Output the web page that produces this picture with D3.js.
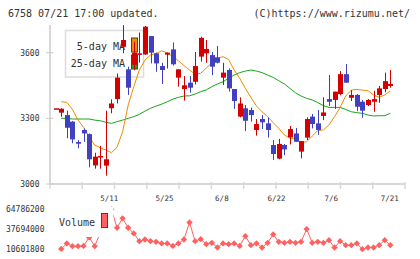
<!DOCTYPE html>
<html>
<head>
<meta charset="utf-8">
<script src="https://cdn.jsdelivr.net/npm/d3@7"></script>
<style>
body { margin: 0; background: #fff; }
svg { display: block; }
text { font-family: 'DejaVu Sans Mono', monospace; fill: #333; }
</style>
</head>
<body>
<div id="chart"></div>
<script>
// Daily candles (index 0 = first day shown)
var openP  = [3346, 3326, 3315, 3285, 3192, 3247, 3228, 3085, 3122, 3084,
              3346, 3388, 3627, 3524, 3545, 3592, 3592, 3676, 3597, 3539,
              3591, 3615, 3486, 3434, 3463, 3467, 3582, 3597, 3589, 3579,
              3486, 3521, 3434, 3308, 3346, 3338, 3247, 3297, 3277, 3178,
              3116, 3178, 3213, 3231, 3148, 3212, 3308, 3277, 3311, 3388,
              3384, 3411, 3502, 3394, 3407, 3376, 3361, 3376, 3407, 3434, 3448];
var highP  = [3346, 3346, 3335, 3288, 3201, 3254, 3231, 3143, 3174, 3335,
              3387, 3505, 3726, 3536, 3650, 3692, 3722, 3676, 3600, 3554,
              3601, 3647, 3524, 3493, 3493, 3603, 3673, 3658, 3603, 3630,
              3554, 3528, 3434, 3396, 3361, 3349, 3297, 3315, 3303, 3201,
              3206, 3183, 3265, 3256, 3196, 3305, 3320, 3338, 3396, 3498,
              3422, 3516, 3548, 3429, 3411, 3384, 3388, 3426, 3448, 3509, 3521];
var lowP   = [3346, 3307, 3209, 3186, 3163, 3193, 3076, 3070, 3070, 3038,
              3323, 3368, 3597, 3407, 3520, 3555, 3590, 3551, 3513, 3457,
              3528, 3541, 3445, 3381, 3417, 3455, 3559, 3554, 3498, 3551,
              3452, 3422, 3343, 3305, 3242, 3285, 3221, 3251, 3212, 3110,
              3113, 3132, 3181, 3192, 3117, 3201, 3254, 3224, 3292, 3356,
              3343, 3405, 3463, 3379, 3333, 3303, 3356, 3330, 3371, 3419, 3440];
var closeP = [3346, 3344, 3257, 3204, 3184, 3231, 3113, 3125, 3128, 3113,
              3368, 3486, 3658, 3440, 3600, 3597, 3719, 3600, 3551, 3521,
              3600, 3547, 3524, 3451, 3440, 3539, 3668, 3617, 3536, 3554,
              3509, 3437, 3379, 3368, 3289, 3315, 3274, 3282, 3247, 3137,
              3183, 3158, 3251, 3193, 3196, 3297, 3274, 3247, 3327, 3376,
              3422, 3502, 3463, 3407, 3353, 3335, 3384, 3388, 3437, 3470, 3457];

// Moving averages as drawn
var ma5  = [null, 3376, 3373, 3341, 3292, 3259, 3216, 3178, 3166, 3155,
            3143, 3168, 3239, 3361, 3445, 3521, 3566, 3589, 3597, 3608,
            3600, 3582, 3563, 3541, 3521, 3502, 3506, 3530, 3554, 3574,
            3582, 3569, 3521, 3483, 3437, 3396, 3356, 3330, 3308, 3280,
            3254, 3224, 3209, 3206, 3190, 3193, 3219, 3244, 3247, 3270,
            3308, 3350, 3402, 3429, 3432, 3429, 3426, 3407, 3396, 3407, 3425];
var ma25 = [null, 3300, 3300, 3297, 3297, 3297, 3297, 3292, 3289, 3282,
            3277, 3285, 3292, 3300, 3308, 3318, 3333, 3346, 3356, 3365,
            3376, 3388, 3396, 3402, 3403, 3411, 3422, 3430, 3445, 3457,
            3467, 3483, 3498, 3509, 3516, 3521, 3516, 3509, 3498, 3487,
            3472, 3457, 3437, 3417, 3402, 3391, 3384, 3372, 3358, 3350,
            3350, 3350, 3341, 3330, 3326, 3323, 3315, 3311, 3312, 3312, 3323];

// Volume (index 8-10 sit under the legend box)
var volume = [null, 11000000, 18400000, 14700000, 14700000, 15100000, 26600000, 14700000, 33000000, 45000000,
              64786200, 39700000, 52500000, 39700000, 32000000, 21500000, 23800000, 21500000, 20600000, 18400000,
              18400000, 15100000, 18400000, 23800000, 47000000, 21500000, 24200000, 17400000, 19200000, 12900000,
              18400000, 17400000, 18400000, 15100000, 28300000, 16100000, 18400000, 12900000, 19200000, 30700000,
              20600000, 19200000, 20600000, 19200000, 20600000, 37900000, 19200000, 20600000, 19200000, 22900000,
              12900000, 21500000, 16100000, 16100000, 18400000, 10601800, 12900000, 12900000, 16100000, 22900000, 16100000];

var priceTicks = [3000, 3300, 3600];
var volumeTicks = [10601800, 37694000, 64786200];
var dateLabels = ['5/11', '5/25', '6/8', '6/22', '7/6', '7/21'];
var dateLabelAt = [9.6, 19.5, 29.8, 39.6, 49.4, 59.9];

var upColor = 'rgb(212,0,0)';
var downColor = 'rgb(64,64,192)';
var ma5Color = 'rgb(240,140,0)';
var ma25Color = 'rgb(26,165,26)';
var volColor = 'rgb(255,96,96)';
var gridColor = '#d8d8d8';

var svg = d3.select('#chart').append('svg')
    .attr('width', 420)
    .attr('height', 259)

// scales
var x = d3.scaleLinear().domain([-1.02, 62.63]).range([50, 405]);
var y = d3.scaleLinear().domain([3000, 3600]).range([184, 52.7]);
var yv = d3.scaleLinear().domain([10601800, 64786200]).range([249.2, 209.3]);

// header
svg.append('text').attr('x', 8).attr('y', 16.5)
    .style('font-size', '10px')
    .text('6758 07/21 17:00 updated.')
svg.append('text').attr('x', 410).attr('y', 16.5)
    .attr('text-anchor', 'end')
    .style('font-size', '10px')
    .text('(C)https://www.rizumu.net/')

// frame
svg.append('line')
    .attr('x1', 50).attr('x2', 50).attr('y1', 25).attr('y2', y(3000))
    .attr('stroke', gridColor).attr('stroke-width', 2)
svg.append('line')
    .attr('x1', 50).attr('x2', 405).attr('y1', y(3000)).attr('y2', y(3000))
    .attr('stroke', gridColor).attr('stroke-width', 2)

// x ticks, evenly spread over the plot
var r = x.range();
svg.selectAll('.xtick')
    .data(d3.range(12))
    .join('line')
    .attr('class', 'xtick')
    .attr('x1', k => r[0] + k * (r[1] - r[0]) / 11)
    .attr('x2', k => r[0] + k * (r[1] - r[0]) / 11)
    .attr('y1', y(3000) - 2).attr('y2', y(3000) + 5)
    .attr('stroke', gridColor).attr('stroke-width', 1.5)

svg.selectAll('.xlabel')
    .data(dateLabels)
    .join('text')
    .attr('class', 'xlabel')
    .attr('x', (d, i) => x(dateLabelAt[i]))
    .attr('y', 200.5)
    .attr('text-anchor', 'middle')
    .style('font-size', '7.5px')
    .text(d => d)

// y ticks
svg.selectAll('.ytick')
    .data(priceTicks)
    .join('line')
    .attr('class', 'ytick')
    .attr('x1', 46).attr('x2', 53.5)
    .attr('y1', d => y(d)).attr('y2', d => y(d))
    .attr('stroke', '#c8c8c8')
svg.selectAll('.ylabel')
    .data(priceTicks)
    .join('text')
    .attr('class', 'ylabel')
    .attr('x', 39.5)
    .attr('y', d => y(d) + 2.9)
    .attr('text-anchor', 'end')
    .style('font-size', '8px')
    .text(d => d)

// legend box (candles are drawn over it)
svg.append('rect')
    .attr('x', 65.5).attr('y', 30.5).attr('width', 78).attr('height', 46.5)
    .attr('fill', '#fff').attr('stroke', '#dcdcdc').attr('stroke-width', 1.5)
svg.append('text').attr('x', 125).attr('y', 50)
    .attr('text-anchor', 'end').style('font-size', '10px').text('5-day MA')
svg.append('text').attr('x', 125).attr('y', 66.8)
    .attr('text-anchor', 'end').style('font-size', '10px').text('25-day MA')
svg.append('rect')
    .attr('x', 131.5).attr('y', 38).attr('width', 6).attr('height', 14)
    .attr('fill', ma5Color).attr('stroke', '#444')
svg.append('rect')
    .attr('x', 131.5).attr('y', 55).attr('width', 6).attr('height', 14)
    .attr('fill', ma25Color).attr('stroke', '#444')

// moving averages
var idx = d3.range(closeP.length);
var maLine = arr => d3.line()
    .defined(i => arr[i] != null)
    .x(i => x(i))
    .y(i => y(arr[i]))(idx);

svg.append('path').attr('d', maLine(ma25))
    .attr('fill', 'none').attr('stroke', ma25Color).attr('stroke-width', 1)
svg.append('path').attr('d', maLine(ma5))
    .attr('fill', 'none').attr('stroke', ma5Color).attr('stroke-width', 1)

// candles
var candle = svg.selectAll('.candle')
    .data(idx)
    .join('g')
    .attr('class', 'candle')
var col = i => closeP[i] >= openP[i] ? upColor : downColor;

candle.append('line')
    .attr('x1', i => Math.round(x(i)) + 0.5)
    .attr('x2', i => Math.round(x(i)) + 0.5)
    .attr('y1', i => y(highP[i]))
    .attr('y2', i => y(lowP[i]))
    .attr('stroke', col)
candle.append('rect')
    .attr('x', i => Math.round(x(i)) - 2)
    .attr('width', 5)
    .attr('y', i => y(Math.max(openP[i], closeP[i])))
    .attr('height', i => Math.max(1.5, Math.abs(y(openP[i]) - y(closeP[i]))))
    .attr('fill', col)

// volume
svg.selectAll('.vlabel')
    .data(volumeTicks)
    .join('text')
    .attr('class', 'vlabel')
    .attr('x', 44.5)
    .attr('y', d => yv(d) + 2.9)
    .attr('text-anchor', 'end')
    .style('font-size', '8px')
    .text(d => d)

var volLine = d3.line()
    .defined(i => volume[i] != null)
    .x(i => x(i))
    .y(i => yv(volume[i]));
svg.append('path').attr('d', volLine(idx))
    .attr('fill', 'none').attr('stroke', volColor).attr('stroke-width', 1)

svg.selectAll('.vdot')
    .data(idx.filter(i => volume[i] != null))
    .join('path')
    .attr('class', 'vdot')
    .attr('d', d3.symbol(d3.symbolSquare, 20))
    .attr('transform', i => `translate(${x(i)},${yv(volume[i])}) rotate(45)`)
    .attr('fill', volColor)

// volume legend, sits on top of the line
svg.append('rect')
    .attr('x', 55).attr('y', 207).attr('width', 58.5).attr('height', 30)
    .attr('fill', '#fff')
svg.append('text').attr('x', 59).attr('y', 226)
    .style('font-size', '10px').text('Volume')
svg.append('rect')
    .attr('x', 101.5).attr('y', 213.5).attr('width', 6).attr('height', 14)
    .attr('fill', volColor).attr('stroke', '#444')
</script>
</body>
</html>
